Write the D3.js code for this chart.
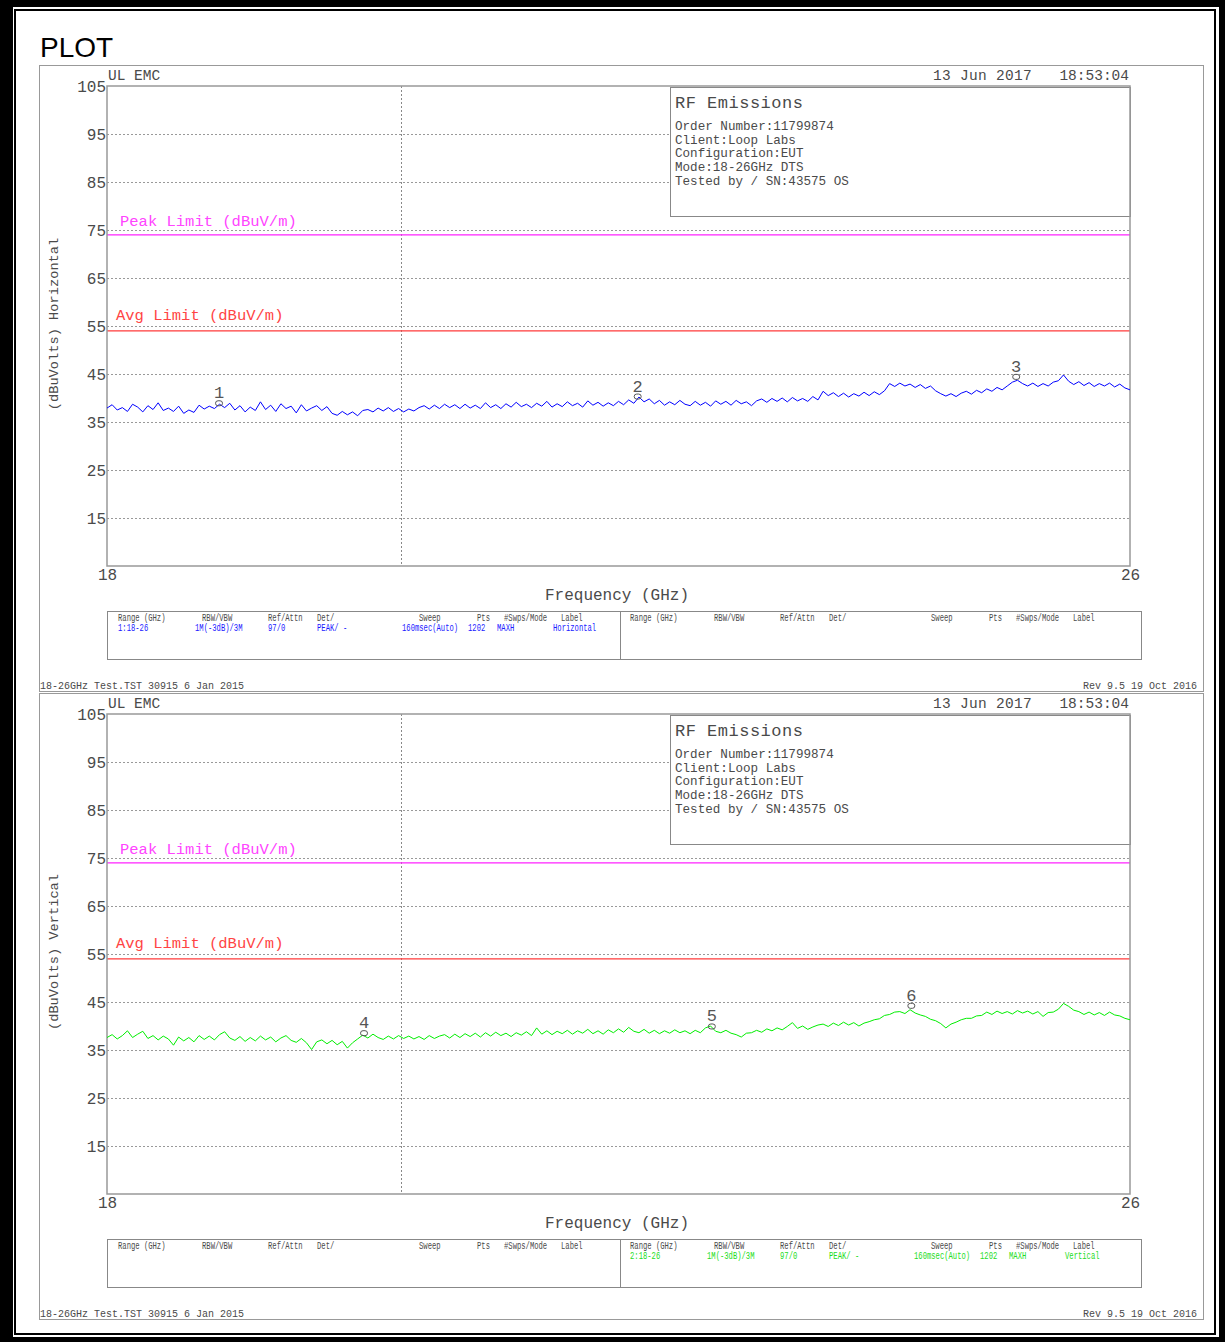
<!DOCTYPE html>
<html><head><meta charset="utf-8">
<script src="https://cdn.jsdelivr.net/npm/d3@7"></script>
<style>body{margin:0;background:#fff}svg{display:block}</style>
</head><body>
<svg id="c" width="1225" height="1342"></svg>
<script>
// ---------------- DATA ----------------
const levelTicks = [105, 95, 85, 75, 65, 55, 45, 35, 25, 15];
const freqTicks = [18, 26];
const sweepStartGHz = 18, sweepStopGHz = 26;
const refLineGHz = 20.3;
const peakLimit = 74, avgLimit = 54;

const horizontalLevels = [
37.9,38.6,37.5,38.0,37.2,38.7,38.1,37.1,38.4,37.6,
39.0,37.4,37.9,37.2,38.3,36.8,37.5,37.0,38.5,37.7,
38.3,37.8,38.7,38.0,38.9,37.5,38.4,37.1,38.1,37.4,
39.2,37.6,38.5,37.2,38.8,37.8,38.3,36.9,38.6,37.3,
37.9,38.4,37.4,38.2,36.8,36.4,37.2,36.5,37.1,36.3,
37.4,37.6,37.1,37.9,37.3,38.0,37.2,37.8,37.1,37.7,
37.3,38.0,38.4,37.7,38.5,37.8,38.7,38.0,38.6,37.8,
38.7,37.9,38.5,37.8,39.0,38.0,38.6,37.8,38.8,38.1,
39.1,38.2,38.7,38.0,38.9,38.3,39.3,38.1,38.8,38.2,
39.2,38.4,38.9,38.1,39.4,38.5,39.1,38.3,39.0,38.4,
39.3,38.6,39.6,38.9,40.2,39.2,39.8,38.8,39.5,38.5,
39.2,38.6,39.5,38.7,38.4,39.3,38.5,39.1,38.3,39.4,
38.7,39.3,38.5,39.5,38.8,39.2,38.4,39.4,39.8,39.1,
39.9,39.3,40.0,39.2,40.1,39.4,39.9,39.3,40.3,39.6,
41.4,40.5,41.1,40.3,41.0,40.2,40.9,40.4,41.2,40.5,
41.3,40.7,41.5,43.0,42.4,43.1,42.5,42.9,42.2,42.8,
42.0,42.5,41.5,40.9,40.4,40.9,40.3,41.0,41.4,40.8,
41.6,41.1,41.9,41.4,42.2,41.7,42.5,43.3,43.7,43.0,
42.5,43.1,42.4,43.0,42.5,43.3,43.6,44.8,43.5,42.8,
43.4,42.6,43.2,42.4,43.0,42.5,43.1,42.3,42.9,42.1,
41.7
];
const verticalLevels = [
37.6,38.2,37.3,38.0,39.0,37.6,38.3,38.9,37.4,38.0,
37.1,37.9,37.3,36.0,37.7,36.9,37.6,36.7,38.0,37.2,
37.9,37.1,38.2,38.8,37.5,37.0,37.8,36.8,37.6,36.9,
37.9,37.1,37.7,36.7,37.5,38.0,37.0,36.6,37.4,36.5,
35.1,36.7,37.1,36.3,37.0,36.1,36.8,35.4,36.5,37.3,
38.1,37.5,38.3,37.6,37.2,37.9,37.3,38.0,37.4,37.9,
37.3,37.8,37.2,38.0,37.4,37.9,38.2,37.5,38.3,37.6,
38.4,37.8,38.5,37.7,38.6,37.9,38.7,38.0,38.5,37.8,
38.6,38.1,38.8,38.0,39.6,38.3,39.0,38.2,38.9,38.4,
39.1,38.3,39.0,38.5,39.3,38.4,39.0,38.3,39.2,38.6,
39.4,38.7,39.7,38.9,38.6,39.3,38.5,39.1,38.4,39.0,
38.5,39.2,38.6,39.0,38.4,39.1,38.6,39.6,40.0,38.9,
38.6,39.1,38.5,38.2,37.7,38.5,38.6,39.1,38.7,39.4,
39.0,39.6,39.2,39.9,40.7,39.5,40.0,39.3,39.8,40.2,
40.4,39.9,40.6,40.1,40.8,40.2,40.7,40.0,40.6,40.9,
41.3,41.5,42.2,42.4,42.9,43.0,42.6,43.4,42.7,42.3,
42.0,41.4,41.1,40.5,39.6,40.4,40.8,41.3,41.6,41.6,
42.1,42.2,42.9,42.4,43.1,42.6,43.0,42.5,43.2,42.7,
43.1,42.5,43.0,42.0,42.8,42.9,43.5,44.7,44.1,43.3,
43.0,42.4,42.9,42.3,42.8,42.2,42.9,42.3,42.1,41.6,
41.3
];

const markerIdsH = [1, 2, 3];
const markerFreqH = [18.876, 22.15, 25.11];
const markerLevelH = [38.9, 40.3, 44.4];
const markerIdsV = [4, 5, 6];
const markerFreqV = [20.01, 22.73, 24.29];
const markerLevelV = [38.5, 39.9, 44.2];

const tableHeaders = ["Range (GHz)", "RBW/VBW", "Ref/Attn", "Det/", "Sweep", "Pts", "#Swps/Mode", "Label"];
const settingsH = ["1:18-26", "1M(-3dB)/3M", "97/0", "PEAK/ -", "160msec(Auto)", "1202", "MAXH", "Horizontal"];
const settingsV = ["2:18-26", "1M(-3dB)/3M", "97/0", "PEAK/ -", "160msec(Auto)", "1202", "MAXH", "Vertical"];

const infoTitle = "RF Emissions";
const infoLines = ["Order Number:11799874", "Client:Loop Labs", "Configuration:EUT", "Mode:18-26GHz DTS", "Tested by / SN:43575 OS"];
const headerLeft = "UL EMC", headerDate = "13 Jun 2017", headerTime = "18:53:04";
const footerLeft = "18-26GHz Test.TST 30915  6 Jan 2015", footerRight = "Rev 9.5 19 Oct 2016";
const peakLabel = "Peak Limit (dBuV/m)", avgLabel = "Avg Limit (dBuV/m)";
const xTitle = "Frequency (GHz)";

// ---------------- DRAW ----------------
const svg = d3.select('#c');
const MONO = "'Liberation Mono','DejaVu Sans Mono',monospace";
const TXT = '#4a4a4a';

svg.append('rect').attr('x',0).attr('y',0).attr('width',1225).attr('height',1342).attr('fill','#000');
svg.append('rect').attr('x',13).attr('y',7).attr('width',1206).attr('height',1330).attr('fill','#fff');
svg.append('rect').attr('x',15).attr('y',10).attr('width',1200).attr('height',1324).attr('fill','none').attr('stroke','#000').attr('stroke-width',2);

svg.append('text').attr('x',40).attr('y',57).attr('font-family',"'Liberation Sans',Arial,sans-serif")
  .attr('font-size',28).attr('fill','#000').text('PLOT');

const x = d3.scaleLinear().domain([sweepStartGHz, sweepStopGHz]).range([107, 1130]);

function drawPanel(dy, levels, mIds, mFreq, mLevel, color, valColor, yTitle, settings, side) {
  const g = svg.append('g');
  const y = d3.scaleLinear().domain([5, 105]).range([566 + dy, 86 + dy]);
  const n = levels.length;
  const freqAt = i => sweepStartGHz + i * (sweepStopGHz - sweepStartGHz) / (n - 1);

  g.append('rect').attr('x',39.5).attr('y',65.5+dy).attr('width',1164).attr('height',626)
    .attr('fill','none').attr('stroke','#999');

  g.append('text').attr('x',108).attr('y',80+dy).attr('font-family',MONO).attr('font-size',14.5).attr('fill',TXT).text(headerLeft);
  g.append('text').attr('x',933).attr('y',80+dy).attr('font-family',MONO).attr('font-size',14.5).attr('fill',TXT).attr('letter-spacing',0.3).text(headerDate);
  g.append('text').attr('x',1129).attr('y',80+dy).attr('text-anchor','end').attr('font-family',MONO).attr('font-size',14.5).attr('fill',TXT).text(headerTime);

  g.selectAll('line.grid').data(levelTicks.filter(t => t !== 105)).enter().append('line')
    .attr('x1',107).attr('x2',1130).attr('y1',d=>y(d)+0.5).attr('y2',d=>y(d)+0.5)
    .attr('stroke','#999').attr('stroke-dasharray','2,2');
  g.append('line').attr('x1',Math.round(x(refLineGHz))+0.5).attr('x2',Math.round(x(refLineGHz))+0.5)
    .attr('y1',86+dy).attr('y2',566+dy).attr('stroke','#888').attr('stroke-dasharray','2,2');

  g.append('line').attr('x1',107).attr('x2',1130).attr('y1',y(peakLimit)).attr('y2',y(peakLimit)).attr('stroke','#ff22ff').attr('stroke-width',1.2);
  g.append('line').attr('x1',107).attr('x2',1130).attr('y1',y(avgLimit)).attr('y2',y(avgLimit)).attr('stroke','#ff3a3a').attr('stroke-width',1.2);
  g.append('text').attr('x',120).attr('y',226+dy).attr('font-family',MONO).attr('font-size',15.5).attr('fill','#ff44ff').text(peakLabel);
  g.append('text').attr('x',116).attr('y',320+dy).attr('font-family',MONO).attr('font-size',15.5).attr('fill','#ff4444').text(avgLabel);

  g.append('rect').attr('x',670.5).attr('y',87.5+dy).attr('width',460).attr('height',129)
    .attr('fill','#fff').attr('stroke','#888');
  g.append('text').attr('x',675).attr('y',108+dy).attr('font-family',MONO).attr('font-size',17).attr('letter-spacing',0.5).attr('fill',TXT).text(infoTitle);
  g.selectAll('text.info').data(infoLines).enter().append('text')
    .attr('x',675).attr('y',(d,i)=>130+dy+i*13.7).attr('font-family',MONO).attr('font-size',12.6).attr('fill',TXT).text(d=>d);

  g.append('rect').attr('x',107).attr('y',86+dy).attr('width',1023).attr('height',480)
    .attr('fill','none').attr('stroke','#999').attr('stroke-width',1.5);

  const line = d3.line().x((d,i)=>x(freqAt(i))).y(d=>y(d));
  g.append('path').datum(levels).attr('d',line).attr('fill','none').attr('stroke',color).attr('stroke-width',1);

  mIds.forEach((id,k) => {
    const mx = x(mFreq[k]), my = y(mLevel[k]);
    g.append('rect').attr('x',mx-3.5).attr('y',my-2.5).attr('width',7).attr('height',5).attr('rx',2.5)
      .attr('fill','none').attr('stroke','#555').attr('stroke-width',1);
    g.append('text').attr('x',mx).attr('y',my-5).attr('text-anchor','middle').attr('font-family',MONO)
      .attr('font-size',17).attr('fill','#555').text(id);
  });

  const ya = g.append('g').attr('transform','translate(106,0)')
    .call(d3.axisLeft(y).tickValues(levelTicks).tickSize(0).tickPadding(0).tickFormat(d3.format('d')));
  ya.select('.domain').remove();
  ya.selectAll('text').attr('font-family',MONO).attr('font-size',16).attr('fill',TXT);
  const xa = g.append('g').attr('transform',`translate(0,${566+dy})`)
    .call(d3.axisBottom(x).tickValues(freqTicks).tickSize(0).tickPadding(3).tickFormat(d3.format('d')));
  xa.select('.domain').remove();
  xa.selectAll('text').attr('font-family',MONO).attr('font-size',16).attr('fill',TXT);

  g.append('text').attr('x',617).attr('y',600+dy).attr('text-anchor','middle').attr('font-family',MONO)
    .attr('font-size',16).attr('fill',TXT).text(xTitle);
  g.append('text').attr('transform',`translate(58,${324+dy}) rotate(-90)`).attr('text-anchor','middle')
    .attr('font-family',MONO).attr('font-size',13.7).attr('fill',TXT).text(yTitle);

  g.append('rect').attr('x',107.5).attr('y',611.5+dy).attr('width',1034).attr('height',48)
    .attr('fill','none').attr('stroke','#888');
  g.append('line').attr('x1',620.5).attr('x2',620.5).attr('y1',611+dy).attr('y2',659+dy).attr('stroke','#888');
  const hdrX = [118, 202, 268, 317, 419, 477, 504, 561];
  const valX = [118, 195, 268, 317, 402, 468, 497, 553];
  [0, 512].forEach((off, s) => {
    tableHeaders.forEach((h,j) => {
      g.append('text').attr('transform',`translate(${hdrX[j]+off},${621+dy}) scale(0.72,1)`)
        .attr('font-family',MONO).attr('font-size',10).attr('fill',TXT).text(h);
    });
    if (s === side) {
      settings.forEach((v,j) => {
        g.append('text').attr('transform',`translate(${valX[j]+off},${631+dy}) scale(0.72,1)`)
          .attr('font-family',MONO).attr('font-size',10).attr('fill',valColor).text(v);
      });
    }
  });

  g.append('text').attr('x',40).attr('y',689+dy).attr('font-family',MONO).attr('font-size',10).attr('fill',TXT).text(footerLeft);
  g.append('text').attr('x',1197).attr('y',689+dy).attr('text-anchor','end').attr('font-family',MONO).attr('font-size',10).attr('fill',TXT).text(footerRight);
}

drawPanel(0, horizontalLevels, markerIdsH, markerFreqH, markerLevelH, '#0000ff', '#1a1aff', '(dBuVolts) Horizontal', settingsH, 0);
drawPanel(628, verticalLevels, markerIdsV, markerFreqV, markerLevelV, '#00ee00', '#22dd22', '(dBuVolts) Vertical', settingsV, 1);
</script>
</body></html>
